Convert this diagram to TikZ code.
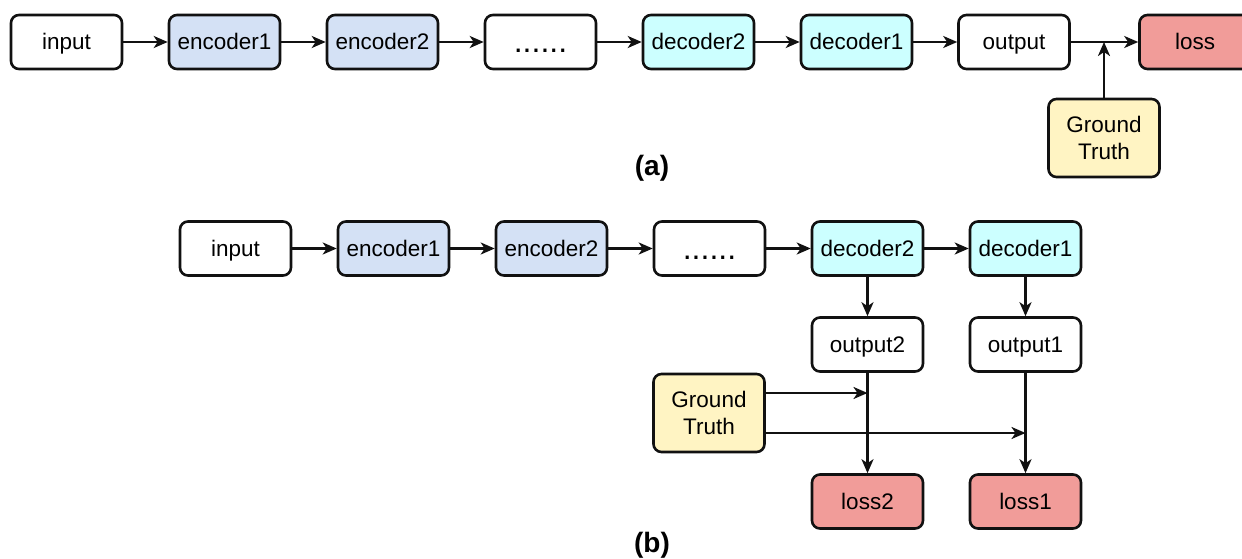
\documentclass[tikz,border=0pt]{standalone}
\usepackage{fontspec}
\setmainfont{Liberation Sans}
\usetikzlibrary{arrows.meta}
\definecolor{encfill}{HTML}{D4E1F5}
\definecolor{decfill}{HTML}{CCFFFF}
\definecolor{lossfill}{HTML}{F19C99}
\definecolor{gtfill}{HTML}{FFF4C3}
\definecolor{edge}{HTML}{111111}
\begin{document}
\begin{tikzpicture}[x=1pt,y=-1pt,
  base/.style={draw=edge, rounded corners=8pt, line width=2.6pt, minimum width=111pt, minimum height=54pt, inner sep=0pt, font=\fontsize{22.5}{27}\selectfont, fill=white},
  box/.style={base, text height=18pt, text depth=2pt},
  enc/.style={box, fill=encfill},
  dec/.style={box, fill=decfill},
  lossbox/.style={box, fill=lossfill},
  gt/.style={base, fill=gtfill, minimum height=78pt, align=center},
  dots/.style={box, font=\fontsize{32}{32}\selectfont, text height=22pt, text depth=0pt},
  arr/.style={draw=edge, line width=2.4pt, -{Stealth[length=14pt,width=12pt,inset=4pt]}},
  lbl/.style={font=\fontsize{28}{30}\selectfont\bfseries}
]
\useasboundingbox (0,0) rectangle (1242,559);
% (a)
\node[box] (ain) at (66.5,42) {input};
\node[enc] (ae1) at (224.5,42) {encoder1};
\node[enc] (ae2) at (382.5,42) {encoder2};
\node[dots] (adots) at (540.5,42) {......};
\node[dec] (ad2) at (698.5,42) {decoder2};
\node[dec] (ad1) at (856.5,42) {decoder1};
\node[box] (aout) at (1014,42) {output};
\node[lossbox] (aloss) at (1195,42) {loss};
\node[gt] (agt) at (1104,138) {Ground\\Truth};
\coordinate (aj) at (1104,42);
\node[lbl] (la) at (652,168) {(a)};
\draw[arr] (ain) -- (ae1);
\draw[arr] (ae1) -- (ae2);
\draw[arr] (ae2) -- (adots);
\draw[arr] (adots) -- (ad2);
\draw[arr] (ad2) -- (ad1);
\draw[arr] (ad1) -- (aout);
\draw[arr] (aout) -- (aloss);
\draw[arr] (agt) -- (aj);
% (b)
\node[box] (bin) at (235.5,248.5) {input};
\node[enc] (be1) at (393.5,248.5) {encoder1};
\node[enc] (be2) at (551.5,248.5) {encoder2};
\node[dots] (bdots) at (709.5,248.5) {......};
\node[dec] (bd2) at (867.5,248.5) {decoder2};
\node[dec] (bd1) at (1025.5,248.5) {decoder1};
\node[box] (bo2) at (867.5,344.5) {output2};
\node[box] (bo1) at (1025.5,344.5) {output1};
\node[lossbox] (bl2) at (867.5,501.5) {loss2};
\node[lossbox] (bl1) at (1025.5,501.5) {loss1};
\node[gt] (bgt) at (709,413) {Ground\\Truth};
\coordinate (bj2) at (867.5,393);
\coordinate (bj1) at (1025.5,433);
\node[lbl] (lb) at (652,545) {(b)};
\draw[arr] (bin) -- (be1);
\draw[arr] (be1) -- (be2);
\draw[arr] (be2) -- (bdots);
\draw[arr] (bdots) -- (bd2);
\draw[arr] (bd2) -- (bd1);
\draw[arr] (bd2) -- (bo2);
\draw[arr] (bd1) -- (bo1);
\draw[arr] (bo2) -- (bl2);
\draw[arr] (bo1) -- (bl1);
\draw[arr] (bgt.east |- bj2) -- (bj2);
\draw[arr] (bgt.east |- bj1) -- (bj1);
\end{tikzpicture}
\end{document}
